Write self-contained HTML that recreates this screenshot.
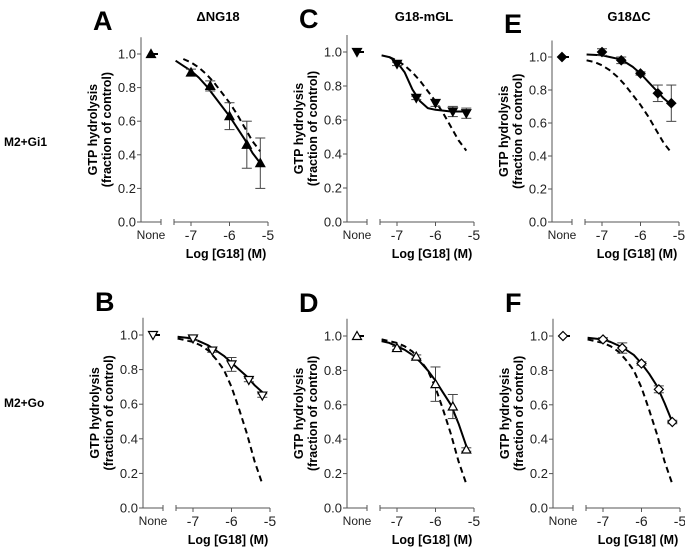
<!DOCTYPE html>
<html><head><meta charset="utf-8"><style>
body{margin:0;background:#fff;width:685px;height:550px;overflow:hidden}
svg text{font-family:"Liberation Sans",Arial,sans-serif}
</style></head><body>
<svg id="fig" width="685" height="550" xmlns="http://www.w3.org/2000/svg">
<text x="4" y="146" font-size="12" font-weight="bold">M2+Gi1</text>
<text x="4" y="407" font-size="12" font-weight="bold">M2+Go</text>
</svg>
<script>
const curveX=[-7.4,-7.2,-7,-6.8,-6.6,-6.4,-6.2,-6,-5.8,-5.6,-5.4,-5.2];
const dashTop=[0.98,0.97,0.95,0.92,0.88,0.83,0.77,0.71,0.64,0.56,0.48,0.42];
const dashBot=[0.98,0.97,0.96,0.94,0.91,0.86,0.80,0.70,0.57,0.43,0.27,0.14];
const solidA=[0.96,0.93,0.90,0.86,0.81,0.75,0.69,0.63,0.56,0.49,0.41,0.35];
const solidC=[0.98,0.97,0.94,0.88,0.78,0.71,0.67,0.66,0.655,0.65,0.65,0.65];
const solidE=[1.015,1.013,1.01,1.0,0.99,0.97,0.94,0.90,0.85,0.80,0.75,0.71];
const solidB=[0.99,0.985,0.98,0.96,0.94,0.91,0.88,0.84,0.80,0.76,0.71,0.67];
const solidD=[0.97,0.96,0.94,0.92,0.89,0.85,0.80,0.74,0.67,0.60,0.49,0.36];
const solidF=[0.99,0.985,0.98,0.965,0.945,0.92,0.89,0.84,0.78,0.71,0.61,0.50];
const ptX=[-7,-6.5,-6,-5.55,-5.2];
const ptA=[0.89,0.81,0.63,0.46,0.35], errA=[0.02,0.03,0.08,0.14,0.15];
const ptC=[0.93,0.73,0.70,0.65,0.64], errC=[0.01,0.01,0.02,0.03,0.03];
const ptE=[1.03,0.98,0.90,0.78,0.72], errE=[0.02,0.02,0.01,0.05,0.11];
const ptB=[0.98,0.91,0.83,0.74,0.65], errB=[0.01,0.01,0.04,0.01,0.01];
const ptD=[0.93,0.88,0.72,0.59,0.34], errD=[0.01,0.01,0.10,0.07,0.01];
const ptF=[0.98,0.93,0.84,0.69,0.50], errF=[0.01,0.03,0.01,0.02,0.01];
const yTicks=[0,0.2,0.4,0.6,0.8,1.0];
const yTickLabels=["0.0","0.2","0.4","0.6","0.8","1.0"];
const xTicks=[-7,-6,-5];
const xTickLabels=["-7","-6","-5"];
const panels=[
 {id:'a',letter:'A',title:'ΔNG18',ax:141,y0:222,y1:54,solid:solidA,dash:dashTop,pts:ptA,err:errA,mk:'tri-up',fill:'#000',dashStart:-7.3},
 {id:'c',letter:'C',title:'G18-mGL',ax:347,y0:222,y1:52,solid:solidC,dash:dashTop,pts:ptC,err:errC,mk:'tri-down',fill:'#000',dashStart:-7.3},
 {id:'e',letter:'E',title:'G18ΔC',ax:552,y0:222,y1:57,solid:solidE,dash:dashTop,pts:ptE,err:errE,mk:'diamond',fill:'#000',dashStart:-7.4},
 {id:'b',letter:'B',title:'',ax:143,y0:508,y1:335,solid:solidB,dash:dashBot,pts:ptB,err:errB,mk:'tri-down',fill:'#fff',dashStart:-7.4},
 {id:'d',letter:'D',title:'',ax:347,y0:508,y1:336,solid:solidD,dash:dashBot,pts:ptD,err:errD,mk:'tri-up',fill:'#fff',dashStart:-7.4},
 {id:'f',letter:'F',title:'',ax:553,y0:508,y1:336,solid:solidF,dash:dashBot,pts:ptF,err:errF,mk:'diamond',fill:'#fff',dashStart:-7.4}
];
const svg=document.getElementById('fig');
const NS='http://www.w3.org/2000/svg';
function mk(tag,attrs,parent){const e=document.createElementNS(NS,tag);for(const k in attrs)e.setAttribute(k,attrs[k]);(parent||svg).appendChild(e);return e;}
function marker(g,type,cx,cy,fill){
 let p;
 if(type==='tri-up')p=`M${cx},${cy-4.5} L${cx+4.5},${cy+3.5} L${cx-4.5},${cy+3.5}Z`;
 else if(type==='tri-down')p=`M${cx},${cy+4.5} L${cx+4.5},${cy-3.5} L${cx-4.5},${cy-3.5}Z`;
 else p=`M${cx},${cy-4.5} L${cx+4.5},${cy} L${cx},${cy+4.5} L${cx-4.5},${cy}Z`;
 return mk('path',{d:p,fill:fill,stroke:'#000','stroke-width':1.2},g);
}
panels.forEach(P=>{
 const g=mk('g',{});
 
 
 const X=v=>P.ax+50+(v+7)*38.5;
 const Y=v=>P.y0-v*(P.y0-P.y1);
 const lt=mk('text',{x:P.ax-48,y:P.y1-24,'font-size':27,'font-weight':'bold'},g);lt.textContent=P.letter;
 
 
 if(P.title){const t=mk('text',{x:P.ax+77,y:21,'font-size':13,'font-weight':'bold','text-anchor':'middle'},g);t.textContent=P.title;
  
  }
 const axis=mk('g',{stroke:'#555','stroke-width':1,fill:'none'},g);
 
 
 mk('line',{x1:P.ax,y1:Y(1.1),x2:P.ax,y2:P.y0},axis);
 mk('line',{x1:P.ax,y1:P.y0,x2:P.ax+20,y2:P.y0},axis);
 mk('line',{x1:P.ax+20,y1:P.y0-3,x2:P.ax+20,y2:P.y0+3},axis);
 mk('line',{x1:P.ax+33,y1:P.y0,x2:X(-5),y2:P.y0},axis);
 mk('line',{x1:P.ax+33,y1:P.y0-3,x2:P.ax+33,y2:P.y0+3},axis);
 yTicks.forEach((v,i)=>{mk('line',{x1:P.ax-4,y1:Y(v),x2:P.ax,y2:Y(v)},axis);
  const t=mk('text',{x:P.ax-5,y:Y(v)+4.5,'font-size':13,'text-anchor':'end',fill:'#222',stroke:'none'},g);t.textContent=yTickLabels[i];
  
  });
 xTicks.forEach((v,i)=>{mk('line',{x1:X(v),y1:P.y0,x2:X(v),y2:P.y0+4},axis);
  const t=mk('text',{x:X(v),y:P.y0+18,'font-size':14,'text-anchor':'middle',fill:'#222'},g);t.textContent=xTickLabels[i];
  
  });
 const nn=mk('text',{x:P.ax+10,y:P.y0+17,'font-size':12,'text-anchor':'middle',fill:'#222',stroke:'none'},g);nn.textContent='None';
 
 
 const xl=mk('text',{x:P.ax+85,y:P.y0+36,'font-size':12.5,'font-weight':'bold','text-anchor':'middle'},g);xl.textContent='Log [G18] (M)';
 
 
 const yc=(P.y0+Y(1.1))/2;
 const yl=mk('text',{x:0,y:0,'font-size':12.5,'font-weight':'bold','text-anchor':'middle',transform:`translate(${P.ax-44},${yc}) rotate(-90)`},g);
 
 
 const s1=mk('tspan',{x:0,dy:0},yl);s1.textContent='GTP hydrolysis';
 const s2=mk('tspan',{x:0,dy:14},yl);s2.textContent='(fraction of control)';
 let dd='';curveX.forEach((v,i)=>{if(v<P.dashStart-0.01)return;dd+=(dd?'L':'M')+X(v).toFixed(1)+','+Y(P.dash[i]).toFixed(1);});
 const dl=mk('path',{d:dd,fill:'none',stroke:'#000','stroke-width':2,'stroke-dasharray':'6,4'},g);
 
 
 let sd='';curveX.forEach((v,i)=>{sd+=(i?'L':'M')+X(v).toFixed(1)+','+Y(P.solid[i]).toFixed(1);});
 const sl=mk('path',{d:sd,fill:'none',stroke:'#000','stroke-width':2,'stroke-linejoin':'round'},g);
 
 
 mk('line',{x1:P.ax+10,y1:Y(1),x2:P.ax+17,y2:Y(1),stroke:'#000','stroke-width':2},g);
 const nm=marker(g,P.mk,P.ax+10,Y(1),P.fill);
 
 
 ptX.forEach((v,i)=>{
  const cx=X(v),lo=Y(P.pts[i]-P.err[i]),hi=Y(P.pts[i]+P.err[i]);
  mk('line',{x1:cx,y1:lo,x2:cx,y2:hi,stroke:'#444','stroke-width':1},g);
  mk('line',{x1:cx-5,y1:lo,x2:cx+5,y2:lo,stroke:'#444','stroke-width':1},g);
  mk('line',{x1:cx-5,y1:hi,x2:cx+5,y2:hi,stroke:'#444','stroke-width':1},g);
  const m=marker(g,P.mk,cx,Y(P.pts[i]),P.fill);
  
  
 });
});
</script>
</body></html>
